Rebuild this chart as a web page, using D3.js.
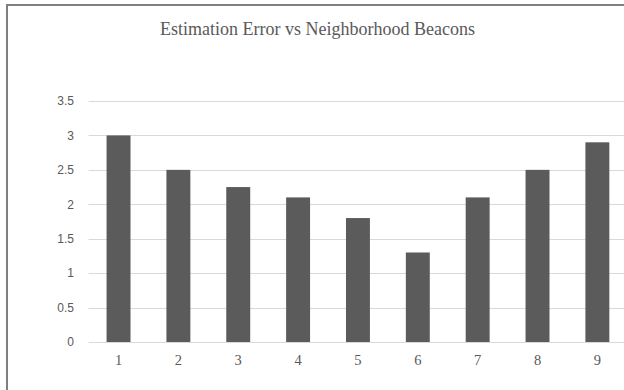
<!DOCTYPE html>
<html>
<head>
<meta charset="utf-8">
<script src="https://cdn.jsdelivr.net/npm/d3@7"></script>
<style>
  html, body { margin: 0; padding: 0; background: #fff; }
  svg { display: block; }
</style>
</head>
<body>
<svg id="chart" width="624" height="390"></svg>
<script>
// Average estimation error per number of neighbourhood beacons
const beacons = ["1", "2", "3", "4", "5", "6", "7", "8", "9"];
const errors = [3.0, 2.5, 2.25, 2.1, 1.8, 1.3, 2.1, 2.5, 2.9];
const yTicks = [0, 0.5, 1, 1.5, 2, 2.5, 3, 3.5];
const chartTitle = "Estimation Error vs Neighborhood Beacons";

const svg = d3.select("#chart");
const W = 624, H = 390;

// chart frame (the right and bottom edges run off the canvas)
svg.append("rect")
  .attr("x", 7).attr("y", 5)
  .attr("width", W + 10).attr("height", H + 10)
  .attr("fill", "#fff")
  .attr("stroke", "#7f7f7f")
  .attr("stroke-width", 2);

const x = d3.scaleBand()
  .domain(beacons)
  .range([88.6, 627.3])
  .paddingInner(0.6)
  .paddingOuter(0.3);

const y = d3.scaleLinear()
  .domain([0, 3.5])
  .range([342, 101]);

// horizontal gridlines
svg.append("g")
  .selectAll("line")
  .data(yTicks)
  .join("line")
  .attr("x1", 88.6).attr("x2", 627.3)
  .attr("y1", d => Math.round(y(d)) + 0.5)
  .attr("y2", d => Math.round(y(d)) + 0.5)
  .attr("stroke", "#d9d9d9")
  .attr("stroke-width", 1);

// y axis labels
const yAxis = d3.axisLeft(y).tickValues(yTicks).tickSize(0).tickPadding(0)
  .tickFormat(d => String(d));
svg.append("g")
  .attr("transform", "translate(74,0)")
  .call(yAxis)
  .call(g => g.select(".domain").remove())
  .call(g => g.selectAll("text")
    .attr("fill", "#595959")
    .attr("font-family", "'Liberation Sans', Arial, sans-serif")
    .attr("font-size", 12));

// bars
svg.append("g")
  .selectAll("rect")
  .data(beacons.map((b, i) => ({ b, v: errors[i] })))
  .join("rect")
  .attr("x", d => x(d.b))
  .attr("width", x.bandwidth())
  .attr("y", d => y(d.v))
  .attr("height", d => y(0) - y(d.v))
  .attr("fill", "#5b5b5b");

// x axis labels
const xAxis = d3.axisBottom(x).tickSize(0).tickPadding(0);
svg.append("g")
  .attr("transform", "translate(0,355)")
  .call(xAxis)
  .call(g => g.select(".domain").remove())
  .call(g => g.selectAll("text")
    .attr("fill", "#595959")
    .attr("font-family", "'Liberation Serif', 'Times New Roman', serif")
    .attr("font-size", 14.5));

// title
svg.append("text")
  .attr("x", 317.5)
  .attr("y", 35)
  .attr("text-anchor", "middle")
  .attr("fill", "#595959")
  .attr("font-family", "'Liberation Serif', 'Times New Roman', serif")
  .attr("font-size", 18)
  .text(chartTitle);
</script>
</body>
</html>
